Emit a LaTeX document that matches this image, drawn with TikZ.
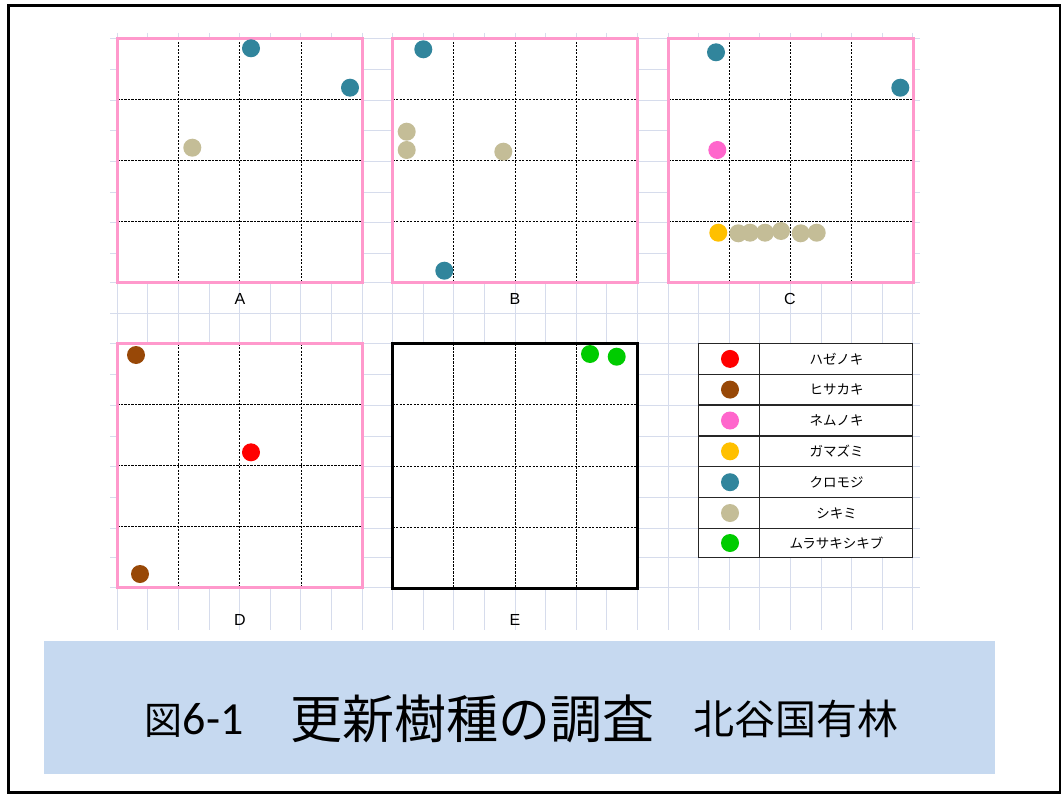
\documentclass[tikz,border=0pt]{standalone}
\usepackage{fontspec}
\setmainfont{Liberation Sans}
\newfontfamily\cjk{Noto Sans CJK JP}
\newfontfamily\carl{Carlito}
\definecolor{gridc}{HTML}{D6DCEC}
\definecolor{pinkb}{HTML}{FF99CC}
\definecolor{titlebg}{HTML}{C6D9F0}
\definecolor{cteal}{HTML}{31859C}
\definecolor{ctan}{HTML}{C4BD97}
\definecolor{cpink}{HTML}{FF66CC}
\definecolor{cgold}{HTML}{FFC000}
\definecolor{cred}{HTML}{FF0000}
\definecolor{cbrown}{HTML}{984807}
\definecolor{cgreen}{HTML}{00CC00}
\tikzset{
  gridl/.style={draw=gridc, line width=0.9pt},
  innerdash/.style={draw=black, line width=0.95pt, dash pattern=on 2.2pt off 1.3pt},
  panelframe/.style={line width=3pt},
  lab/.style={font=\fontsize{16}{18}\selectfont, inner sep=0pt},
  legtext/.style={font=\cjk\fontsize{13.5}{15}\selectfont, inner sep=0pt},
  legline/.style={draw=black!85, line width=1.1pt},
}
\newcommand\mypanel[5]{%
  \fill[white] (#1,#2) rectangle (#3,#4);
  \foreach \q in {0.25,0.5,0.75}{
    \draw[innerdash] ({#1+(#3-#1)*\q},#2) -- ({#1+(#3-#1)*\q},#4);
    \draw[innerdash] (#1,{#2+(#4-#2)*\q}) -- (#3,{#2+(#4-#2)*\q});
  }
  \draw[panelframe, draw=#5] (#1,#2) rectangle (#3,#4);
}
\newcommand\mydot[3]{\fill[#3] (#1,#2) circle[radius=9pt];}
\begin{document}
\begin{tikzpicture}[x=1pt,y=-1pt]
\useasboundingbox (0,0) rectangle (1064,794);
\fill[white] (0,0) rectangle (1064,794);
% background spreadsheet grid
\foreach \k in {0,...,26}{
  \draw[gridl] ({117.3+30.6*\k},33) -- ({117.3+30.6*\k},630);
}
\foreach \yy in {38.3,69.3,100,130.7,161.3,192,222.7,253.3,282.7,313.3,343.5,374.3,405,436,466.7,497.7,528.3,557.7,587.7}{
  \draw[gridl] (110,\yy) -- (920,\yy);
}
% panels
\mypanel{117.3}{38.3}{362.4}{282.7}{pinkb}
\mypanel{392.7}{38.3}{637.7}{282.7}{pinkb}
\mypanel{668.3}{38.3}{913.0}{282.7}{pinkb}
\mypanel{117.3}{343.5}{362.4}{587.9}{pinkb}
\mypanel{392.7}{343.8}{637.7}{588.2}{black}
% dots A
\mydot{251}{48.3}{cteal}
\mydot{350}{87.7}{cteal}
\mydot{192.3}{147.7}{ctan}
% dots B
\mydot{423.3}{49.3}{cteal}
\mydot{406.7}{131.7}{ctan}
\mydot{406.7}{150}{ctan}
\mydot{503.3}{151.7}{ctan}
\mydot{444.3}{270.7}{cteal}
% dots C
\mydot{716}{52.3}{cteal}
\mydot{900.3}{87.7}{cteal}
\mydot{717.3}{150}{cpink}
\mydot{718.3}{232.7}{cgold}
\mydot{738.3}{233.3}{ctan}
\mydot{750}{232.7}{ctan}
\mydot{765}{232.7}{ctan}
\mydot{781}{231}{ctan}
\mydot{800.7}{233.3}{ctan}
\mydot{816.7}{232.7}{ctan}
% dots D
\mydot{136}{355}{cbrown}
\mydot{251}{452.3}{cred}
\mydot{140}{574}{cbrown}
% dots E
\mydot{590}{354}{cgreen}
\mydot{616.7}{356.7}{cgreen}
% panel labels
\node[lab] (labA) at (240,299) {A};
\node[lab] (labB) at (515,299) {B};
\node[lab] (labC) at (790,299) {C};
\node[lab] (labD) at (240,620) {D};
\node[lab] (labE) at (515,620) {E};
% legend
\fill[white] (698.7,343.5) rectangle (912.9,557.7);
\foreach \yy in {374.3,405,436,466.7,497.7,528.3}{
  \draw[legline] (698.7,\yy) -- (912.9,\yy);
}
\draw[legline] (759.9,343.5) -- (759.9,557.7);
\draw[legline] (698.7,343.5) rectangle (912.9,557.7);
\foreach \yc/\col/\txt/\nm in {358.9/cred/ハゼノキ/l1, 389.6/cbrown/ヒサカキ/l2, 420.5/cpink/ネムノキ/l3, 451.3/cgold/ガマズミ/l4, 482.2/cteal/クロモジ/l5, 513/ctan/シキミ/l6, 543/cgreen/ムラサキシキブ/l7}{
  \fill[\col] (730,\yc) circle[radius=9pt];
  \node[legtext] (\nm) at (836.5,\yc) {\txt};
}
% title
\fill[titlebg] (43.5,641) rectangle (995,773.5);
\node[anchor=base west, inner sep=0pt] (tfig) at (144.5,734.5) {{\cjk\fontsize{38}{40}\selectfont 図}{\carl\fontsize{46}{48}\selectfont 6-1}};
\node[anchor=base west, inner sep=0pt, font=\cjk\fontsize{52}{56}\selectfont] (tmain) at (290.5,738) {更新樹種の調査};
\node[anchor=base west, inner sep=0pt, font=\cjk\fontsize{41}{44}\selectfont] (tsub) at (693,734) {北谷国有林};
% outer frame
\draw[black, line width=2.6pt] (8.5,5.5) rectangle (1059.8,792.3);
\end{tikzpicture}
\end{document}
